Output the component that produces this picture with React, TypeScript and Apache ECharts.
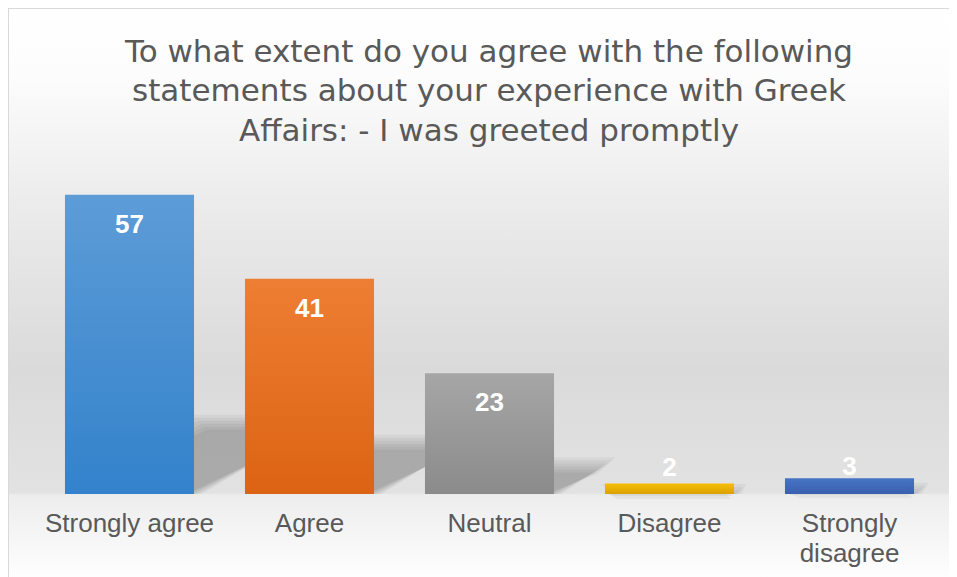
import React, { useEffect, useRef } from "react";
import * as echarts from "echarts";

const categories = ["Strongly agree", "Agree", "Neutral", "Disagree", "Strongly\ndisagree"];
const values = [57, 41, 23, 2, 3];
const titleLines = [
  "To what extent do you agree with the following",
  "statements about your experience with Greek",
  "Affairs: - I was greeted promptly",
];
const topColors = ["#5d9cd7", "#ee7e33", "#a6a6a6", "#f6bf00", "#4674c4"];
const bottomColors = ["#3382cb", "#dc6313", "#8b8b8b", "#dba100", "#3a60ae"];

const FONT = "'Century Gothic', 'Liberation Sans', Arial, sans-serif";
const TITLE_FONT = "'Century Gothic', 'DejaVu Sans', sans-serif";

export default function App() {
  const ref = useRef<HTMLDivElement>(null);
  useEffect(() => {
    if (!ref.current) return;
    const chart = echarts.init(ref.current, undefined, { renderer: "svg" });
    const barData = values.map((v, i) => ({
      value: v,
      itemStyle: {
        color: new echarts.graphic.LinearGradient(0, 0, 0, 1, [
          { offset: 0, color: topColors[i] },
          { offset: 1, color: bottomColors[i] },
        ]),
      },
      label:
        v < 10
          ? { position: "top", distance: i === 3 ? 4 : -1 }
          : { position: "insideTop", distance: 16 },
    }));
    chart.setOption({
      animation: false,
      backgroundColor: "transparent",
      graphic: [
        {
          type: "text",
          x: 480,
          y: 22,
          style: {
            text: titleLines.join("\n"),
            font: `31px ${TITLE_FONT}`,
            fill: "#595959",
            align: "center",
            verticalAlign: "top",
            lineHeight: 39.5,
          },
        },
      ],
      grid: { left: 30.5, right: 17.5, top: 170, bottom: 83, containLabel: false },
      xAxis: {
        type: "category",
        data: categories,
        axisLine: { show: false },
        axisTick: { show: false },
        axisLabel: {
          color: "#595959",
          fontSize: 26,
          fontFamily: FONT,
          lineHeight: 30,
          margin: 14,
          interval: 0,
        },
      },
      yAxis: { type: "value", min: 0, max: 60, show: false, splitLine: { show: false } },
      series: [
        {
          type: "custom",
          z: 1,
          silent: true,
          data: values.map((v, i) => [i, v]),
          renderItem: (params: any, api: any) => {
            const idx = api.value(0);
            const v = api.value(1);
            const base = api.coord([idx, 0]);
            const top = api.coord([idx, v]);
            const band = api.size([1, 0])[0];
            const w = band * 0.717;
            const xL = base[0] - w / 2;
            const xR = base[0] + w / 2;
            const yB = base[1];
            const h = yB - top[1];
            const dy = 0.24 * h;
            const dx = 0.45 * h;
            const layers = [];
            for (let k = 0; k < 6; k++) {
              const e = (k - 2.5) * 3;
              layers.push({
                type: "polygon",
                shape: {
                  points: [
                    [xL + 4, yB],
                    [xR + e, yB],
                    [xR + dx + e, yB - dy - e],
                    [xL + dx - e, yB - dy - e],
                  ],
                },
                style: { fill: "rgba(0,0,0,0.045)" },
              });
            }
            return { type: "group", children: layers };
          },
        },
        {
          type: "bar",
          z: 2,
          barCategoryGap: "28.3%",
          data: barData,
          label: {
            show: true,
            color: "#ffffff",
            fontWeight: "bold",
            fontSize: 26,
            fontFamily: FONT,
          },
        },
      ],
    });
    return () => chart.dispose();
  }, []);
  return (
    <div
      style={{
        width: 948,
        height: 568,
        borderTop: "1px solid #d9d9d9",
        borderLeft: "1px solid #d9d9d9",
        background:
          "linear-gradient(to bottom, #ffffff 0px, #fcfcfc 70px, #ececec 190px, #dadada 360px, #e2e2e2 484px, #ededed 486px, #fefefe 568px)",
      }}
    >
      <div ref={ref} style={{ width: 948, height: 568 }} />
    </div>
  );
}
